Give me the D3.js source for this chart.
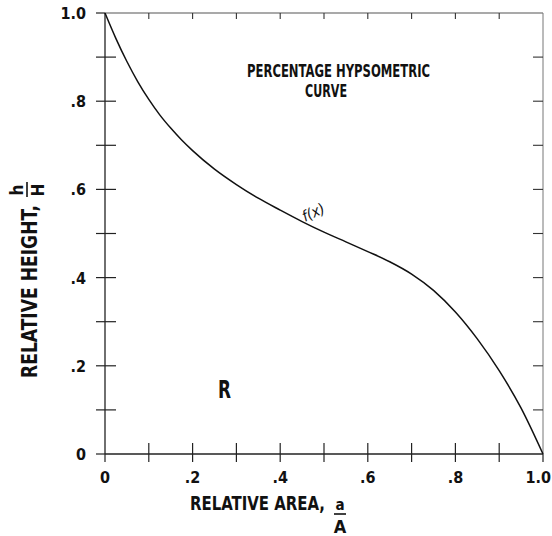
<!DOCTYPE html>
<html>
<head>
<meta charset="utf-8">
<script src="https://cdn.jsdelivr.net/npm/d3@7"></script>
<style>
  body { margin: 0; background: #fff; }
  svg text { font-family: "Liberation Sans Narrow", "DejaVu Sans Condensed", "Liberation Sans", sans-serif; font-weight: bold; fill: #111; }
</style>
</head>
<body>
<svg id="chart" width="552" height="536"></svg>
<script>
// relative area (a/A) and relative height (h/H)
const areaX = [0, 0.025, 0.05, 0.075, 0.1, 0.125, 0.15, 0.175, 0.2, 0.25, 0.3, 0.35, 0.4, 0.45, 0.5, 0.55, 0.6, 0.65, 0.7, 0.75, 0.8, 0.85, 0.9, 0.95, 1.0];
const heightY = [1.0, 0.942, 0.89, 0.844, 0.804, 0.769, 0.739, 0.712, 0.688, 0.646, 0.611, 0.58, 0.553, 0.527, 0.503, 0.481, 0.459, 0.436, 0.408, 0.371, 0.322, 0.261, 0.189, 0.104, 0.0];
const tickLabels = ['0', '.2', '.4', '.6', '.8', '1.0'];
const labelTicks = [0, 0.2, 0.4, 0.6, 0.8, 1.0];

const svg = d3.select('#chart');
const x = d3.scaleLinear().domain([0, 1]).range([105, 543]);
const y = d3.scaleLinear().domain([0, 1]).range([454, 13]);
const fmt = d => tickLabels[labelTicks.indexOf(Math.round(d * 10) / 10)];

// frame: axes dark, top/right lighter
svg.append('line').attr('x1', x(0)).attr('x2', x(0)).attr('y1', y(0)).attr('y2', y(1)).attr('stroke', '#222').attr('stroke-width', 1.3);
svg.append('line').attr('x1', x(0)).attr('x2', x(1)).attr('y1', y(0)).attr('y2', y(0)).attr('stroke', '#222').attr('stroke-width', 1.3);
svg.append('line').attr('x1', x(0)).attr('x2', x(1)).attr('y1', y(1)).attr('y2', y(1)).attr('stroke', '#555').attr('stroke-width', 1.1);
svg.append('line').attr('x1', x(1)).attr('x2', x(1)).attr('y1', y(1)).attr('y2', y(0)).attr('stroke', '#777').attr('stroke-width', 1);

const minor = x.ticks(10).filter(d => d > 0 && d < 1);
// cross ticks on left and bottom axes
svg.append('g').selectAll('line').data(minor).join('line')
  .attr('x1', x(0) - 9).attr('x2', x(0) + 11)
  .attr('y1', d => y(d)).attr('y2', d => y(d))
  .attr('stroke', '#222').attr('stroke-width', 1.2);
svg.append('g').selectAll('line').data(minor).join('line')
  .attr('y1', y(0) - 11).attr('y2', y(0) + 8)
  .attr('x1', d => x(d)).attr('x2', d => x(d))
  .attr('stroke', '#222').attr('stroke-width', 1.2);
svg.append('line').attr('x1', x(0) - 9).attr('x2', x(0)).attr('y1', y(1)).attr('y2', y(1)).attr('stroke', '#222').attr('stroke-width', 1.2);
svg.append('line').attr('x1', x(0) - 9).attr('x2', x(0)).attr('y1', y(0)).attr('y2', y(0)).attr('stroke', '#222').attr('stroke-width', 1.2);
svg.append('line').attr('x1', x(0)).attr('x2', x(0)).attr('y1', y(0)).attr('y2', y(0) + 8).attr('stroke', '#222').attr('stroke-width', 1.2);
svg.append('line').attr('x1', x(1)).attr('x2', x(1)).attr('y1', y(0)).attr('y2', y(0) + 8).attr('stroke', '#222').attr('stroke-width', 1.2);
// inward ticks on top and right borders
svg.append('g').selectAll('line').data(minor).join('line')
  .attr('y1', y(1)).attr('y2', y(1) + 6)
  .attr('x1', d => x(d)).attr('x2', d => x(d))
  .attr('stroke', '#333').attr('stroke-width', 1.1);
svg.append('g').selectAll('line').data(minor).join('line')
  .attr('x1', x(1) - 10).attr('x2', x(1))
  .attr('y1', d => y(d)).attr('y2', d => y(d))
  .attr('stroke', '#333').attr('stroke-width', 1.1);

// tick labels
svg.append('g').selectAll('text').data(labelTicks).join('text')
  .attr('x', 86).attr('y', d => y(d) + 6)
  .attr('text-anchor', 'end').attr('font-size', 16)
  .text(fmt);
svg.append('g').selectAll('text').data(labelTicks).join('text')
  .attr('x', d => d === 1 ? 551 : x(d)).attr('y', 483)
  .attr('text-anchor', d => d === 1 ? 'end' : 'middle').attr('font-size', 16)
  .text(fmt);

// curve
const line = d3.line().x((d, i) => x(areaX[i])).y(d => y(d)).curve(d3.curveMonotoneX);
svg.append('path').datum(heightY).attr('d', line)
  .attr('fill', 'none').attr('stroke', '#111').attr('stroke-width', 1.5);

// annotations
svg.append('text').attr('x', 247).attr('y', 77).attr('font-size', 17)
  .attr('textLength', 183).attr('lengthAdjust', 'spacingAndGlyphs').text('PERCENTAGE HYPSOMETRIC');
svg.append('text').attr('x', 305).attr('y', 97).attr('font-size', 17)
  .attr('textLength', 42).attr('lengthAdjust', 'spacingAndGlyphs').text('CURVE');
svg.append('text').attr('x', 218).attr('y', 398).attr('font-size', 25)
  .attr('textLength', 13).attr('lengthAdjust', 'spacingAndGlyphs').text('R');
svg.append('text').attr('transform', 'translate(305,222) rotate(-25)')
  .attr('font-size', 15).attr('font-style', 'italic').style('font-weight', 'normal').text('f(x)');

// x axis title
svg.append('text').attr('transform', 'translate(190,510) scale(1,1.15)').attr('font-size', 17)
  .attr('textLength', 135).attr('lengthAdjust', 'spacingAndGlyphs').text('RELATIVE AREA,');
svg.append('text').attr('x', 340).attr('y', 510).attr('text-anchor', 'middle').attr('font-size', 15).text('a');
svg.append('line').attr('x1', 334).attr('x2', 346).attr('y1', 514).attr('y2', 514).attr('stroke', '#111').attr('stroke-width', 1.6);
svg.append('text').attr('x', 340).attr('y', 533).attr('text-anchor', 'middle').attr('font-size', 18).text('A');

// y axis title
svg.append('text').attr('transform', 'translate(37,378) rotate(-90)').attr('font-size', 22)
  .attr('textLength', 173).attr('lengthAdjust', 'spacingAndGlyphs').text('RELATIVE HEIGHT,');
svg.append('text').attr('transform', 'translate(23,190) rotate(-90)').attr('text-anchor', 'middle').attr('font-size', 17).text('h');
svg.append('line').attr('x1', 27).attr('x2', 27).attr('y1', 182).attr('y2', 197).attr('stroke', '#111').attr('stroke-width', 1.6);
svg.append('text').attr('transform', 'translate(44,190) rotate(-90)').attr('text-anchor', 'middle').attr('font-size', 17).text('H');
</script>
</body>
</html>
